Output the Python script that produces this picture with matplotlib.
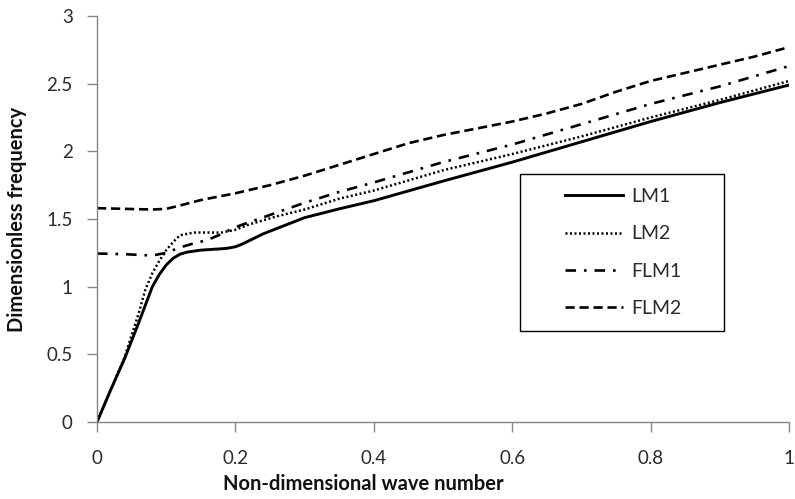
import matplotlib
matplotlib.use("Agg")
import matplotlib.pyplot as plt
from matplotlib.patches import Rectangle

# ---- data ----
lm1_x = [0, 0.02, 0.04, 0.06, 0.08, 0.09, 0.10, 0.11, 0.12, 0.13, 0.15, 0.18, 0.19, 0.20, 0.21, 0.22, 0.24, 0.27, 0.30, 0.35, 0.40, 0.50, 0.60, 0.70, 0.80, 0.90, 1.00]
lm1_y = [0, 0.24, 0.47, 0.73, 1.00, 1.09, 1.16, 1.21, 1.24, 1.255, 1.27, 1.28, 1.285, 1.295, 1.315, 1.34, 1.39, 1.45, 1.51, 1.575, 1.635, 1.78, 1.92, 2.07, 2.22, 2.36, 2.49]

lm2_x = [0, 0.02, 0.04, 0.06, 0.07, 0.08, 0.09, 0.10, 0.11, 0.12, 0.14, 0.16, 0.18, 0.20, 0.22, 0.26, 0.30, 0.35, 0.40, 0.50, 0.60, 0.70, 0.80, 0.90, 1.00]
lm2_y = [0, 0.24, 0.48, 0.80, 0.98, 1.10, 1.19, 1.27, 1.33, 1.38, 1.40, 1.40, 1.40, 1.42, 1.46, 1.52, 1.57, 1.65, 1.71, 1.86, 1.98, 2.11, 2.25, 2.38, 2.52]

flm1_x = [0, 0.04, 0.08, 0.10, 0.12, 0.14, 0.16, 0.18, 0.20, 0.25, 0.30, 0.35, 0.40, 0.50, 0.60, 0.70, 0.80, 0.90, 1.00]
flm1_y = [1.245, 1.24, 1.23, 1.25, 1.29, 1.32, 1.345, 1.39, 1.44, 1.53, 1.62, 1.70, 1.77, 1.92, 2.05, 2.20, 2.35, 2.48, 2.63]

flm2_x = [0, 0.04, 0.08, 0.10, 0.12, 0.15, 0.20, 0.25, 0.30, 0.35, 0.40, 0.45, 0.50, 0.55, 0.60, 0.65, 0.70, 0.75, 0.80, 0.85, 0.90, 0.95, 1.00]
flm2_y = [1.58, 1.575, 1.57, 1.575, 1.60, 1.64, 1.69, 1.75, 1.82, 1.90, 1.98, 2.06, 2.12, 2.17, 2.22, 2.28, 2.35, 2.44, 2.52, 2.58, 2.64, 2.70, 2.77]

series_names = ["LM1", "LM2", "FLM1", "FLM2"]
x_ticks = [0, 0.2, 0.4, 0.6, 0.8, 1]
x_ticklabels = ["0", "0.2", "0.4", "0.6", "0.8", "1"]
y_ticks = [0, 0.5, 1, 1.5, 2, 2.5, 3]
y_ticklabels = ["0", "0.5", "1", "1.5", "2", "2.5", "3"]

plt.rcParams['font.family'] = ['Lato', 'DejaVu Sans']

W, H = 795, 499
fig = plt.figure(figsize=(W / 100, H / 100), dpi=100)
ax = fig.add_axes([97 / W, 1 - 422 / H, (789 - 97) / W, (422 - 16) / H])

lw = 1.9
ax.plot(lm1_x, lm1_y, color='black', lw=2.1, linestyle='-', label=series_names[0])
ax.plot(lm2_x, lm2_y, color='black', lw=1.8, linestyle=(0, (0.8, 1.0)), label=series_names[1])
ax.plot(flm1_x, flm1_y, color='black', lw=lw, linestyle=(0, (4, 3, 1, 3)), label=series_names[2])
ax.plot(flm2_x, flm2_y, color='black', lw=lw, linestyle=(0, (3.5, 1.8)), label=series_names[3])

ax.set_xlim(0, 1)
ax.set_ylim(0, 3)
ax.set_xticks(x_ticks)
ax.set_xticklabels(x_ticklabels)
ax.set_yticks(y_ticks)
ax.set_yticklabels(y_ticklabels)

for s in ['top', 'right']:
    ax.spines[s].set_visible(False)
for s in ['left', 'bottom']:
    ax.spines[s].set_color('#868686')
    ax.spines[s].set_linewidth(1.0)

ax.tick_params(axis='both', direction='out', length=7, width=1.0, color='#868686',
               labelsize=13.5, labelcolor='#2a2a2a')
ax.tick_params(axis='x', pad=13)
ax.tick_params(axis='y', pad=10.5)

ax.set_xlabel("Non-dimensional wave number", fontsize=14.5, fontweight='bold', color='#111111')
ax.set_ylabel("Dimensionless frequency", fontsize=14.5, fontweight='bold', color='#111111')
ax.xaxis.set_label_coords((363 - 97) / 692, -(474 - 422) / 406)
ax.yaxis.set_label_coords(-(97 - 27) / 692, 0.5)

# legend box (frame drawn separately to match its wide side margins)
ax.add_patch(Rectangle((520 / W, 1 - 331 / H), 204 / W, 157 / H, transform=fig.transFigure,
                       facecolor='white', edgecolor='black', lw=1.0, zorder=4, clip_on=False))
leg = ax.legend(loc='upper left', bbox_to_anchor=(565 / W, 1 - 188 / H),
                bbox_transform=fig.transFigure, frameon=False, fontsize=14,
                handlelength=3.0, handletextpad=0.4, labelspacing=1.05,
                borderpad=0, borderaxespad=0)
leg.set_zorder(5)
for t in leg.get_texts():
    t.set_color('#2a2a2a')

fig.savefig("out.png", dpi=100)
